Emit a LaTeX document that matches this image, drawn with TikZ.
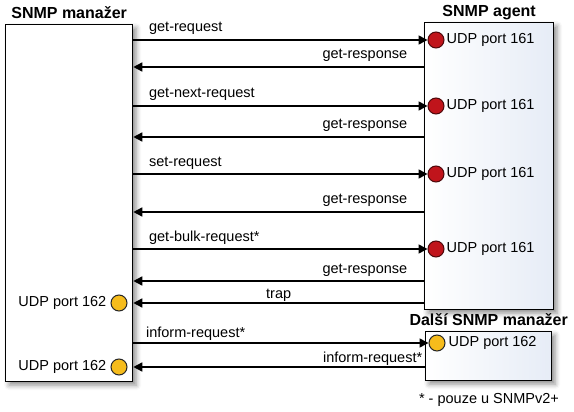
\documentclass[tikz,border=0pt]{standalone}
\usepackage{fontspec}
\setmainfont{Liberation Sans}
\definecolor{portred}{RGB}{192, 20, 27}
\definecolor{portyellow}{RGB}{246, 188, 28}
\definecolor{boxblue}{RGB}{230, 236, 246}
\usetikzlibrary{arrows.meta, positioning, shadows.blur}
\tikzset{
	hostbox/.style={rectangle, draw=black, line width=1.3pt, fill=white, inner sep=0pt, anchor=north west, blur shadow={shadow xshift=3.5pt, shadow yshift=-3.5pt, shadow blur radius=5pt, shadow opacity=45}},
	agentbox/.style={hostbox, left color=white, right color=boxblue},
	boxtitle/.style={font=\fontsize{16}{18}\selectfont\bfseries, inner sep=0pt, anchor=base},
	lbl/.style={font=\fontsize{14.5}{17}\selectfont, inner sep=0pt},
	redport/.style={circle, draw=black!60!portred, fill=portred, line width=1pt, minimum size=16pt, inner sep=0pt},
	yellowport/.style={circle, draw=black!85, fill=portyellow, line width=1pt, minimum size=16pt, inner sep=0pt},
	msg/.style={-{Triangle[length=9pt, width=9pt]}, line width=1.6pt},
}

\begin{document}
\begin{tikzpicture}[x=1pt, y=-1pt]
		\useasboundingbox (0,0) rectangle (574,412);
		% hosts
		\node[hostbox, minimum width=127pt, minimum height=357pt] (mgr) at (5,24) {};
		\node[agentbox, minimum width=129pt, minimum height=287pt] (agent) at (424,22) {};
		\node[agentbox, minimum width=126pt, minimum height=49pt] (mgr2) at (425,331) {};
		\node[boxtitle] at ([yshift=5pt]mgr.north) {SNMP manažer};
		\node[boxtitle] at ([yshift=5pt]agent.north) {SNMP agent};
		\node[boxtitle] at ([yshift=6pt]mgr2.north) {Další SNMP manažer};
		% ports
		\node[redport] (p1) at (436,40) {};
		\node[redport] (p2) at (436,106) {};
		\node[redport] (p3) at (436,174) {};
		\node[redport] (p4) at (436,249) {};
		\foreach \p in {p1,p2,p3,p4}
			\node[lbl, right=2pt of \p] {UDP port 161};
		\node[yellowport] (y1) at (119,303) {};
		\node[yellowport] (y2) at (119,367) {};
		\node[yellowport] (q1) at (437,343) {};
		\node[lbl, left=4pt of y1] {UDP port 162};
		\node[lbl, left=4pt of y2] {UDP port 162};
		\node[lbl, right=3pt of q1] {UDP port 162};
		% rows of the replies
		\coordinate (r2) at (0,67);
		\coordinate (r4) at (0,137);
		\coordinate (r6) at (0,212);
		\coordinate (r8) at (0,281);
		% messages
		\draw[msg] (mgr.east |- p1) -- node[lbl, pos=0, anchor=base west, xshift=15pt, yshift=8pt] {get-request} (p1.west);
		\draw[msg] (agent.west |- r2) -- node[lbl, pos=0, anchor=base east, xshift=-16pt, yshift=8pt] {get-response} (mgr.east |- r2);
		\draw[msg] (mgr.east |- p2) -- node[lbl, pos=0, anchor=base west, xshift=15pt, yshift=8pt] {get-next-request} (p2.west);
		\draw[msg] (agent.west |- r4) -- node[lbl, pos=0, anchor=base east, xshift=-16pt, yshift=8pt] {get-response} (mgr.east |- r4);
		\draw[msg] (mgr.east |- p3) -- node[lbl, pos=0, anchor=base west, xshift=15pt, yshift=7pt] {set-request} (p3.west);
		\draw[msg] (agent.west |- r6) -- node[lbl, pos=0, anchor=base east, xshift=-16pt, yshift=8pt] {get-response} (mgr.east |- r6);
		\draw[msg] (mgr.east |- p4) -- node[lbl, pos=0, anchor=base west, xshift=15pt, yshift=8pt] {get-bulk-request*} (p4.west);
		\draw[msg] (agent.west |- r8) -- node[lbl, pos=0, anchor=base east, xshift=-16pt, yshift=8pt] {get-response} (mgr.east |- r8);
		\draw[msg] (agent.west |- y1) -- node[lbl, anchor=base, yshift=5pt] {trap} (mgr.east |- y1);
		\draw[msg] (mgr.east |- q1) -- node[lbl, pos=0, anchor=base west, xshift=12pt, yshift=6pt] {inform-request*} (q1.west);
		\draw[msg] (mgr2.west |- y2) -- node[lbl, pos=0, anchor=base east, xshift=-2pt, yshift=5pt] {inform-request*} (mgr.east |- y2);
		\node[lbl, anchor=base] (note) at (489,403) {* - pouze u SNMPv2+};
	\end{tikzpicture}
\end{document}
